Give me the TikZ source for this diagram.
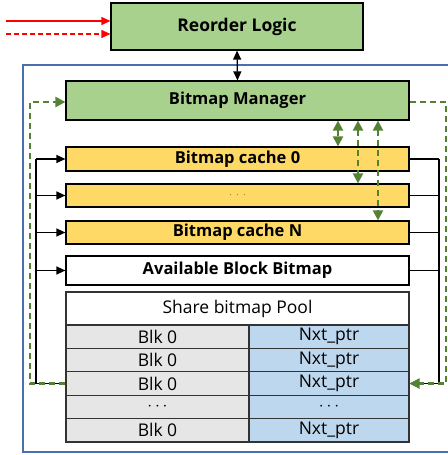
\documentclass[tikz,border=0pt]{standalone}
\usepackage{fontspec}
\setmainfont{Open Sans}
\usetikzlibrary{arrows.meta}
\definecolor{gfill}{HTML}{A9D18E}
\definecolor{yfill}{HTML}{FFD966}
\definecolor{grayfill}{HTML}{E6E6E6}
\definecolor{bfill}{HTML}{BDD7EE}
\definecolor{garrow}{HTML}{548235}
\definecolor{outerblue}{HTML}{4A6FAF}
\tikzset{
  box/.style={draw=black, line width=1.2pt, inner sep=0pt, font=\fontsize{16.5}{19}\selectfont\bfseries},
  cell/.style={draw=black!80, line width=1.1pt, inner sep=0pt, font=\fontsize{17.5}{20}\selectfont},
  blk/.style={line width=1.3pt, draw=black},
  blkarr/.style={blk, -{Triangle[length=9pt,width=8pt]}},
  gdash/.style={draw=garrow, line width=2.2pt, dash pattern=on 6pt off 4pt},
  garr/.style={gdash, -{Triangle[length=10pt,width=10pt]}},
  gdbl/.style={gdash, {Triangle[length=10pt,width=10pt]}-{Triangle[length=10pt,width=10pt]}},
}
\begin{document}
\begin{tikzpicture}[x=1pt,y=-1pt]
\useasboundingbox (0,0) rectangle (447,455);
% outer blue frame
\draw[outerblue, line width=1.2pt] (23,65) rectangle (452,452);
% boxes
\node[box, fill=gfill, minimum width=252pt, minimum height=47pt, font=\fontsize{17.5}{20}\selectfont\bfseries] (rl) at (237,26.5) {Reorder Logic};
\node[box, fill=gfill, minimum width=343pt, minimum height=39pt] (bm) at (237.5,100.5) {Bitmap Manager};
\node[box, fill=yfill, minimum width=343pt, minimum height=24pt] (c0) at (237.5,159) {Bitmap cache 0};
\node[box, fill=yfill, minimum width=343pt, minimum height=23pt, font=\fontsize{9}{10}\selectfont] (cd) at (237.5,195.5) {$\cdot\ \cdot\ \cdot$};
\node[box, fill=yfill, minimum width=343pt, minimum height=23pt] (cN) at (237.5,232.5) {Bitmap cache N};
\node[box, fill=white, minimum width=343pt, minimum height=29pt] (av) at (237.5,270.5) {Available Block Bitmap};
\node[cell, fill=white, minimum width=343pt, minimum height=33pt] (ph) at (237.5,308.5) {Share bitmap Pool};
% pool rows
\foreach \i/\y/\t in {0/336.7/Blk 0, 1/360.1/Blk 0, 2/383.5/Blk 0, 3/406.9/$\cdots$, 4/430.3/Blk 0}{
  \node[cell, fill=grayfill, minimum width=183pt, minimum height=23.4pt] (r\i l) at (157.5,\y) {\t};
}
\foreach \i/\y/\t in {0/336.7/Nxt\_ptr, 1/360.1/Nxt\_ptr, 2/383.5/Nxt\_ptr, 3/406.9/$\cdots$, 4/430.3/Nxt\_ptr}{
  \node[cell, fill=bfill, minimum width=160pt, minimum height=23.4pt] (r\i r) at (329,\y) {\t};
}
% helper coordinates
\coordinate (rs) at (6,21);
\coordinate (rd) at (6,34);
\coordinate (lx) at (36,0);
\coordinate (rx) at (439,0);
\coordinate (glx) at (30,0);
\coordinate (grx) at (446,0);
\coordinate (g1) at (338,0);
\coordinate (g2) at (358,0);
\coordinate (g3) at (378,0);
% red inputs
\draw[red, line width=1.3pt, -{Triangle[length=9pt,width=8pt]}] (rs) -- (rs -| rl.west);
\draw[red, line width=1.3pt, dash pattern=on 5pt off 3pt, -{Triangle[length=9pt,width=8pt]}] (rd) -- (rd -| rl.west);
% reorder <-> manager
\draw[blk, {Triangle[length=9pt,width=8pt]}-{Triangle[length=9pt,width=8pt]}] (rl.south) -- (bm.north);
% green vertical double arrows
\draw[gdbl] (bm.south -| g1) -- (c0.north -| g1);
\draw[gdbl] (bm.south -| g2) -- (cd.north -| g2);
\draw[gdbl] (bm.south -| g3) -- (cN.north -| g3);
% left black feedback
\draw[blk] (r2l.west) -- (r2l.west -| lx) -- (c0.west -| lx);
\foreach \n in {c0,cd,cN,av}{
  \draw[blkarr] (\n.west -| lx) -- (\n.west);
}
% right black
\foreach \n in {c0,cd,cN,av}{
  \draw[blk] (\n.east) -- (\n.east -| rx);
}
\draw[blkarr] (c0.east -| rx) -- (r2r.east -| rx) -- (r2r.east);
% green dashed loops
\draw[garr] (r2l.west) -- (r2l.west -| glx) -- ([yshift=-1.5pt]bm.west -| glx) -- ([yshift=-1.5pt]bm.west);
\draw[garr] ([yshift=-1.5pt]bm.east) -- ([yshift=-1.5pt]bm.east -| grx) -- (r2r.east -| grx) -- (r2r.east);
\end{tikzpicture}
\end{document}
